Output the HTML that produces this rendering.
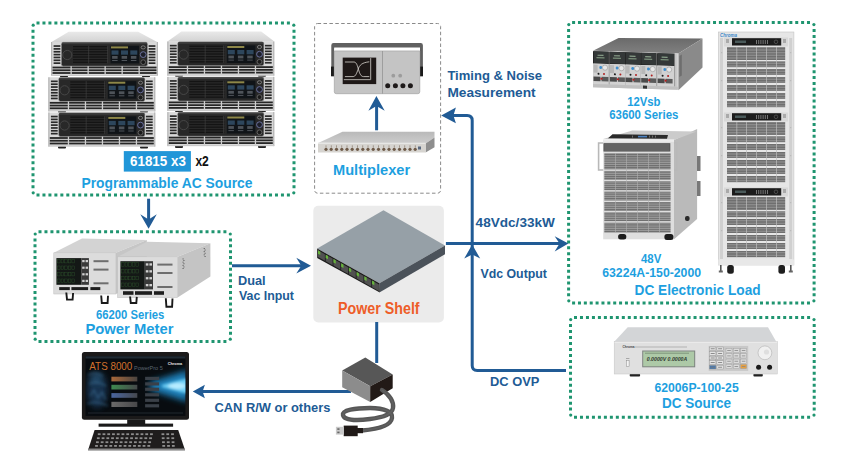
<!DOCTYPE html>
<html><head><meta charset="utf-8">
<style>
html,body{margin:0;padding:0;background:#fff;width:842px;height:459px;overflow:hidden}
svg{display:block}
text{font-family:"Liberation Sans",sans-serif;font-weight:bold}
.db{fill:#215b95}
.lb{fill:#1d9fdf}
</style></head><body>
<svg width="842" height="459" viewBox="0 0 842 459">
<rect width="842" height="459" fill="#fff"/>
<defs>
<linearGradient id="topg" x1="0" y1="0" x2="0" y2="1"><stop offset="0" stop-color="#e9e9e9"/><stop offset="1" stop-color="#d2d2d2"/></linearGradient>
<g id="acu">
<rect x="0" y="0" width="107" height="34" fill="#d9d9d9"/>
<rect x="0" y="0" width="1.2" height="34" fill="#b5b5b5"/>
<rect x="105.8" y="0" width="1.2" height="34" fill="#b5b5b5"/>
<rect x="2.6" y="3.20" width="6.8" height="1.7" fill="#2a2a2a"/>
<rect x="97.6" y="3.20" width="6.8" height="1.7" fill="#2a2a2a"/>
<rect x="2.6" y="6.05" width="6.8" height="1.7" fill="#2a2a2a"/>
<rect x="97.6" y="6.05" width="6.8" height="1.7" fill="#2a2a2a"/>
<rect x="2.6" y="8.90" width="6.8" height="1.7" fill="#2a2a2a"/>
<rect x="97.6" y="8.90" width="6.8" height="1.7" fill="#2a2a2a"/>
<rect x="2.6" y="11.75" width="6.8" height="1.7" fill="#2a2a2a"/>
<rect x="97.6" y="11.75" width="6.8" height="1.7" fill="#2a2a2a"/>
<rect x="2.6" y="14.60" width="6.8" height="1.7" fill="#2a2a2a"/>
<rect x="97.6" y="14.60" width="6.8" height="1.7" fill="#2a2a2a"/>
<rect x="2.6" y="17.45" width="6.8" height="1.7" fill="#2a2a2a"/>
<rect x="97.6" y="17.45" width="6.8" height="1.7" fill="#2a2a2a"/>
<rect x="2.6" y="20.30" width="6.8" height="1.7" fill="#2a2a2a"/>
<rect x="97.6" y="20.30" width="6.8" height="1.7" fill="#2a2a2a"/>
<rect x="10.3" y="0.2" width="86.3" height="24" rx="2" fill="#282828" stroke="#a8a8a8" stroke-width="0.6"/>
<rect x="11" y="0.6" width="85" height="1.6" fill="#3e3e3e"/>
<rect x="22" y="4.00" width="35" height="1.3" fill="#141414"/>
<rect x="22" y="6.60" width="35" height="1.3" fill="#141414"/>
<rect x="22" y="9.20" width="35" height="1.3" fill="#141414"/>
<rect x="22" y="11.80" width="35" height="1.3" fill="#141414"/>
<rect x="22" y="14.40" width="35" height="1.3" fill="#141414"/>
<rect x="22" y="17.00" width="35" height="1.3" fill="#141414"/>
<rect x="22" y="19.60" width="35" height="1.3" fill="#141414"/>
<rect x="37.5" y="3.8" width="0.6" height="17.5" fill="#444"/><rect x="56" y="3.8" width="0.6" height="17.5" fill="#444"/>
<circle cx="16.3" cy="13" r="4.6" fill="none" stroke="#4a4a4a" stroke-width="0.9"/>
<rect x="59.5" y="3.8" width="28.5" height="17.6" fill="#101418"/>
<rect x="60" y="4.4" width="17" height="2" fill="#8e8748"/>
<rect x="60.5" y="8.4" width="7" height="4.3" fill="#2d465c"/>
<rect x="61.1" y="14" width="5.5" height="2.8" fill="#4e5359"/>
<rect x="61.1" y="18" width="5.5" height="1" fill="#4f545a"/>
<rect x="70" y="8.4" width="7" height="4.3" fill="#2d465c"/>
<rect x="70.6" y="14" width="5.5" height="2.8" fill="#4e5359"/>
<rect x="70.6" y="18" width="5.5" height="1" fill="#4f545a"/>
<rect x="79.3" y="8.4" width="7" height="4.3" fill="#2d465c"/>
<rect x="79.89999999999999" y="14" width="5.5" height="2.8" fill="#4e5359"/>
<rect x="79.89999999999999" y="18" width="5.5" height="1" fill="#4f545a"/>
<ellipse cx="92.2" cy="5.4" rx="2.1" ry="1.6" fill="none" stroke="#9a9a9a" stroke-width="0.7"/>
<circle cx="92.2" cy="12.6" r="2.9" fill="#1d1f2a" stroke="#7278a8" stroke-width="0.9"/>
<circle cx="92.2" cy="20.2" r="2.4" fill="#1a1a1a" stroke="#888" stroke-width="0.6"/>
<rect x="1.5" y="24.60" width="104" height="1.8" fill="#262626"/>
<rect x="1.5" y="27.35" width="104" height="1.8" fill="#262626"/>
<rect x="1.5" y="30.10" width="104" height="1.8" fill="#262626"/>
<rect x="19.5" y="24.2" width="1.3" height="8.6" fill="#d0d0d0"/>
<rect x="36.5" y="24.2" width="1.3" height="8.6" fill="#d0d0d0"/>
<rect x="53.5" y="24.2" width="1.3" height="8.6" fill="#d0d0d0"/>
<rect x="70.5" y="24.2" width="1.3" height="8.6" fill="#d0d0d0"/>
<rect x="87.5" y="24.2" width="1.3" height="8.6" fill="#d0d0d0"/>
<rect x="0" y="33" width="107" height="1" fill="#c8c8c8"/>
</g>
</defs>
<!-- AC source units -->
<g>
<polygon points="51,42.2 68.7,31.8 138.1,31.8 157.7,42.2" fill="url(#topg)"/>
<polygon points="167.1,41.8 181.4,31.4 261.2,31.4 274.7,41.8" fill="url(#topg)"/>
<g fill="#222">
<rect x="60" y="75" width="8" height="2.2" rx="1"/><rect x="142" y="75" width="8" height="2.2" rx="1"/>
<rect x="58" y="110.8" width="8" height="2" rx="1"/><rect x="140" y="110.8" width="8" height="2" rx="1"/>
<rect x="58" y="146" width="8" height="2.6" rx="1"/><rect x="140" y="146" width="8" height="2.6" rx="1"/>
<rect x="175" y="74.5" width="8" height="2.2" rx="1"/><rect x="258" y="74.5" width="8" height="2.2" rx="1"/>
<rect x="175" y="110" width="8" height="2" rx="1"/><rect x="258" y="110" width="8" height="2" rx="1"/>
<rect x="175" y="145.4" width="8" height="2.6" rx="1"/><rect x="258" y="145.4" width="8" height="2.6" rx="1"/>
</g>
<use href="#acu" x="51" y="42"/>
<use href="#acu" x="48.3" y="77.3"/>
<use href="#acu" x="48.3" y="112.5"/>
<use href="#acu" x="167.3" y="41.6"/>
<use href="#acu" x="167.3" y="76.9"/>
<use href="#acu" x="167.3" y="112.1"/>
</g>

<!-- boxes -->
<g fill="none" stroke="#1f9570" stroke-width="3">
<path d="M36.50 23H289.90" stroke-dasharray="3 2.962"/>
<path d="M36.50 195H289.90" stroke-dasharray="3 2.962"/>
<path d="M33 29.70V188.30" stroke-dasharray="3 2.985"/>
<path d="M294 29.70V188.30" stroke-dasharray="3 2.985"/>
<path d="M572.10 22.4H810.00" stroke-dasharray="3 2.872"/>
<path d="M572.10 303H810.00" stroke-dasharray="3 2.872"/>
<path d="M568.6 29.10V296.30" stroke-dasharray="3 2.871"/>
<path d="M814.1 29.10V296.30" stroke-dasharray="3 2.871"/>
<path d="M574.00 317.4H810.10" stroke-dasharray="3 2.977"/>
<path d="M574.00 417.3H810.10" stroke-dasharray="3 2.977"/>
<path d="M570.5 324.10V410.60" stroke-dasharray="3 2.964"/>
<path d="M814.2 324.10V410.60" stroke-dasharray="3 2.964"/>
<path d="M38.50 231.8H226.40" stroke-dasharray="3 2.965"/>
<path d="M38.50 341.4H226.40" stroke-dasharray="3 2.965"/>
<path d="M35 238.50V334.70" stroke-dasharray="3 2.825"/>
<path d="M230.5 238.50V334.70" stroke-dasharray="3 2.825"/>
</g>
<g fill="#1f9570">
<circle cx="33.2" cy="25.2" r="1.6"/>
<circle cx="293.8" cy="25.2" r="1.6"/>
<circle cx="33.2" cy="192.8" r="1.6"/>
<circle cx="293.8" cy="192.8" r="1.6"/>
<circle cx="568.8" cy="24.6" r="1.6"/>
<circle cx="813.9" cy="24.6" r="1.6"/>
<circle cx="568.8" cy="300.8" r="1.6"/>
<circle cx="813.9" cy="300.8" r="1.6"/>
<circle cx="570.7" cy="319.6" r="1.6"/>
<circle cx="814.0" cy="319.6" r="1.6"/>
<circle cx="570.7" cy="415.1" r="1.6"/>
<circle cx="814.0" cy="415.1" r="1.6"/>
<circle cx="35.2" cy="234.0" r="1.6"/>
<circle cx="230.3" cy="234.0" r="1.6"/>
<circle cx="35.2" cy="339.2" r="1.6"/>
<circle cx="230.3" cy="339.2" r="1.6"/>
</g>
<rect x="314.6" y="23.5" width="126" height="169.7" rx="3" fill="none" stroke="#8a8a8a" stroke-width="1" stroke-dasharray="3.5 2.4"/>
<rect x="313.3" y="205.7" width="130.6" height="116.7" rx="5" fill="#ebebeb"/>

<!-- oscilloscope -->
<g>
<path d="M331.3 76.2V45.3Q331.3 43.1 333.5 43.1H420.7Q422.9 43.1 422.9 45.3V76.2H420V47.4H334.2V76.2Z" fill="#606060"/>
<rect x="331" y="66.6" width="3" height="9.6" fill="#1a1a1a"/>
<rect x="420" y="66.6" width="3" height="9.6" fill="#1a1a1a"/>
<rect x="334.3" y="48.3" width="85.5" height="2.6" fill="#fff"/>
<path d="M334.3 50.9H419.8V91.7Q419.8 93.7 417.8 93.7H336.3Q334.3 93.7 334.3 91.7Z" fill="#c4c4c4" stroke="#9a9a9a" stroke-width="0.6"/>
<rect x="382.1" y="51" width="0.7" height="42.6" fill="#8f8f8f"/>
<rect x="342.7" y="57.6" width="33.5" height="26.5" fill="#1e1817"/>
<path d="M344.9 62H353.9C356.5 62 357.5 66 358.5 69.5C359.8 74 361 76.6 363.5 76.6H369.3M344.9 76.6H353.2C355.5 76.6 356.8 73 358 69.5C359.5 65 362 62.6 369.3 61.8M370.7 58.1V79.7" fill="none" stroke="#e6e2dc" stroke-width="0.75"/><path d="M343.8 79.6H370.7" stroke="#a09c98" stroke-width="1.1"/>
<circle cx="393.3" cy="75.7" r="1.9" fill="#9c9c9c"/><circle cx="400.2" cy="75.7" r="1.9" fill="#9c9c9c"/>
<circle cx="387.7" cy="85.8" r="2.5" fill="#1e1a1a"/><circle cx="395.4" cy="85.8" r="2.5" fill="#1e1a1a"/><circle cx="402.9" cy="85.8" r="2.5" fill="#1e1a1a"/><circle cx="410.4" cy="85.8" r="2.5" fill="#1e1a1a"/>
</g>
<!-- multiplexer -->
<defs><linearGradient id="muxtop" x1="0" y1="0" x2="0" y2="1"><stop offset="0" stop-color="#b9b9b9"/><stop offset="1" stop-color="#cdcdcd"/></linearGradient></defs>
<g>
<polygon points="318.7,142.8 342.5,131.7 434.5,131.7 434.5,137.6 425.6,143.6" fill="url(#muxtop)"/>
<polygon points="425.6,143.6 434.5,137.6 434.5,147.3 425.6,152.5" fill="#8e8e8e"/>
<rect x="318" y="142.8" width="107.6" height="9.7" fill="#d6d4d0"/>
<rect x="318" y="142.8" width="107.6" height="1" fill="#ecebea"/>
<circle cx="326.0" cy="149.3" r="1.6" fill="#6e5a48"/><rect x="325.5" y="145.3" width="1" height="2.4" fill="#a0968a"/>
<circle cx="331.2" cy="149.3" r="1.6" fill="#6e5a48"/><rect x="330.8" y="145.3" width="1" height="2.4" fill="#a0968a"/>
<circle cx="336.5" cy="149.3" r="1.6" fill="#6e5a48"/><rect x="336.0" y="145.3" width="1" height="2.4" fill="#a0968a"/>
<circle cx="341.8" cy="149.3" r="1.6" fill="#6e5a48"/><rect x="341.2" y="145.3" width="1" height="2.4" fill="#a0968a"/>
<circle cx="347.0" cy="149.3" r="1.6" fill="#6e5a48"/><rect x="346.5" y="145.3" width="1" height="2.4" fill="#a0968a"/>
<circle cx="352.2" cy="149.3" r="1.6" fill="#6e5a48"/><rect x="351.8" y="145.3" width="1" height="2.4" fill="#a0968a"/>
<circle cx="357.5" cy="149.3" r="1.6" fill="#6e5a48"/><rect x="357.0" y="145.3" width="1" height="2.4" fill="#a0968a"/>
<circle cx="362.8" cy="149.3" r="1.6" fill="#6e5a48"/><rect x="362.2" y="145.3" width="1" height="2.4" fill="#a0968a"/>
<circle cx="368.0" cy="149.3" r="1.6" fill="#6e5a48"/><rect x="367.5" y="145.3" width="1" height="2.4" fill="#a0968a"/>
<circle cx="373.2" cy="149.3" r="1.6" fill="#6e5a48"/><rect x="372.8" y="145.3" width="1" height="2.4" fill="#a0968a"/>
<circle cx="378.5" cy="149.3" r="1.6" fill="#6e5a48"/><rect x="378.0" y="145.3" width="1" height="2.4" fill="#a0968a"/>
<circle cx="383.8" cy="149.3" r="1.6" fill="#6e5a48"/><rect x="383.2" y="145.3" width="1" height="2.4" fill="#a0968a"/>
<circle cx="389.0" cy="149.3" r="1.6" fill="#6e5a48"/><rect x="388.5" y="145.3" width="1" height="2.4" fill="#a0968a"/>
<circle cx="394.2" cy="149.3" r="1.6" fill="#6e5a48"/><rect x="393.8" y="145.3" width="1" height="2.4" fill="#a0968a"/>
<circle cx="399.5" cy="149.3" r="1.6" fill="#6e5a48"/><rect x="399.0" y="145.3" width="1" height="2.4" fill="#a0968a"/>
<circle cx="404.8" cy="149.3" r="1.6" fill="#6e5a48"/><rect x="404.2" y="145.3" width="1" height="2.4" fill="#a0968a"/>
<circle cx="410.0" cy="149.3" r="1.6" fill="#6e5a48"/><rect x="409.5" y="145.3" width="1" height="2.4" fill="#a0968a"/>
<circle cx="415.2" cy="149.3" r="1.6" fill="#6e5a48"/><rect x="414.8" y="145.3" width="1" height="2.4" fill="#a0968a"/>
<rect x="418" y="146.5" width="3" height="3" fill="#5a6a80"/>
</g>
<!-- power shelf -->
<g>
<polygon points="317.2,248.5 383.5,210.2 445,245.6 379.4,283.3" fill="#96a0a7"/>
<polygon points="379.4,283.3 445,245.6 445,254.2 379.8,292.2" fill="#4b525a"/>
<polygon points="317.2,248.5 379.4,283.3 379.8,292.4 317.2,258" fill="#1c1c1c"/>
<polygon points="318.00,250.35 324.90,254.21 324.90,260.81 318.00,256.95" fill="#505050"/>
<polygon points="318.00,250.35 320.30,251.63 320.30,255.03 318.00,253.75" fill="#67b43c"/>
<polygon points="325.72,254.67 332.62,258.53 332.62,265.13 325.72,261.27" fill="#505050"/>
<polygon points="325.72,254.67 328.02,255.95 328.02,259.35 325.72,258.07" fill="#67b43c"/>
<polygon points="333.44,258.99 340.34,262.85 340.34,269.45 333.44,265.59" fill="#505050"/>
<polygon points="333.44,258.99 335.74,260.27 335.74,263.67 333.44,262.39" fill="#67b43c"/>
<polygon points="341.16,263.31 348.06,267.17 348.06,273.77 341.16,269.91" fill="#505050"/>
<polygon points="341.16,263.31 343.46,264.59 343.46,267.99 341.16,266.71" fill="#67b43c"/>
<polygon points="348.88,267.62 355.78,271.49 355.78,278.09 348.88,274.22" fill="#505050"/>
<polygon points="348.88,267.62 351.18,268.91 351.18,272.31 348.88,271.02" fill="#67b43c"/>
<polygon points="356.60,271.94 363.50,275.80 363.50,282.40 356.60,278.54" fill="#505050"/>
<polygon points="356.60,271.94 358.90,273.23 358.90,276.63 356.60,275.34" fill="#67b43c"/>
<polygon points="364.32,276.26 371.22,280.12 371.22,286.72 364.32,282.86" fill="#505050"/>
<polygon points="364.32,276.26 366.62,277.55 366.62,280.95 364.32,279.66" fill="#67b43c"/>
<polygon points="372.04,280.58 378.94,284.44 378.94,291.04 372.04,287.18" fill="#505050"/>
<polygon points="372.04,280.58 374.34,281.87 374.34,285.27 372.04,283.98" fill="#67b43c"/>
</g>

<!-- computer -->
<defs>
<linearGradient id="btn1" x1="0" x2="1"><stop offset="0" stop-color="#a8683a"/><stop offset="1" stop-color="#4a4440"/></linearGradient>
<linearGradient id="btn2" x1="0" x2="1"><stop offset="0" stop-color="#3f8a50"/><stop offset="1" stop-color="#45484a"/></linearGradient>
<linearGradient id="btn3" x1="0" x2="1"><stop offset="0" stop-color="#4a66a0"/><stop offset="1" stop-color="#45484e"/></linearGradient>
<linearGradient id="btn4" x1="0" x2="1"><stop offset="0" stop-color="#6a6a6a"/><stop offset="1" stop-color="#48484a"/></linearGradient>
<radialGradient id="glow" cx="0.5" cy="0.5" r="0.5"><stop offset="0" stop-color="#6fd0f6"/><stop offset="0.4" stop-color="#2a8fc6"/><stop offset="1" stop-color="#0a1a2a" stop-opacity="0"/></radialGradient>
<radialGradient id="glow2" cx="0.5" cy="0.5" r="0.5"><stop offset="0" stop-color="#2f5f85"/><stop offset="1" stop-color="#0b1824" stop-opacity="0"/></radialGradient>
</defs>
<g>
<rect x="81.9" y="351.9" width="107.1" height="67.8" rx="2.5" fill="#1b1a1a"/>
<rect x="85.5" y="356.3" width="99.9" height="59.6" fill="#080c10"/>
<clipPath id="scr"><rect x="85.5" y="356.3" width="99.9" height="59.6"/></clipPath>
<g clip-path="url(#scr)">
<filter id="bl3" x="-50%" y="-50%" width="200%" height="200%"><feGaussianBlur stdDeviation="3"/></filter>
<filter id="bl1" x="-50%" y="-50%" width="200%" height="200%"><feGaussianBlur stdDeviation="1.4"/></filter>
<g filter="url(#bl3)" opacity="0.8">
<ellipse cx="97" cy="390" rx="10" ry="18" fill="#1c3e5e"/>
<ellipse cx="96" cy="378" rx="7" ry="5" fill="#2a5a80"/>
</g>
<g filter="url(#bl1)" opacity="0.6"><path d="M88 375Q95 371 103 376M89 384Q97 380 106 386M90 396L94 390L98 398L102 392L106 400M87 404Q96 400 108 406" stroke="#4a80a8" stroke-width="1.2" fill="none"/></g>
<g filter="url(#bl3)">
<polygon points="188,370 150,382 150,390 188,402" fill="#1f7fb8"/>
</g>
<g filter="url(#bl1)">
<polygon points="188,378 162,385 162,387 188,394" fill="#6fd0f6"/>
<ellipse cx="177" cy="386" rx="9" ry="3" fill="#b8ecff"/>
</g>
</g>
<rect x="85.5" y="356.3" width="99.9" height="2.2" fill="#1f2a33"/>
<text x="89.3" y="370.4" font-size="11.2" style="font-weight:normal" fill="#d2712c" textLength="43" lengthAdjust="spacingAndGlyphs">ATS 8000</text>
<text x="134" y="369.8" font-size="5.5" style="font-weight:normal" fill="#5c6670">PowerPro 5</text>
<text x="167.8" y="365" font-size="3.8" fill="#e8e8e8">Chroma</text>
<rect x="111.4" y="376.7" width="25.9" height="4.7" fill="url(#btn1)"/>
<rect x="111.4" y="384.8" width="25.9" height="4.7" fill="url(#btn2)"/>
<rect x="111.4" y="393.1" width="25.9" height="4.7" fill="url(#btn3)"/>
<rect x="111.4" y="401.8" width="25.9" height="5.2" fill="url(#btn4)"/>
<rect x="145.1" y="376.8" width="14" height="3.2" fill="#3a4048"/>
<rect x="145.1" y="382.3" width="14" height="3.2" fill="#3a4048"/>
<rect x="145.1" y="387.7" width="14" height="3.2" fill="#3a4048"/>
<rect x="145.1" y="393.2" width="14" height="3.2" fill="#3a4048"/>
<rect x="145.1" y="398.7" width="14" height="3.2" fill="#3a4048"/>
<rect x="145.1" y="404.2" width="14" height="3.2" fill="#3a4048"/>
<rect x="88" y="412.6" width="95" height="0.8" fill="#2a3038"/>
<rect x="127.2" y="419.5" width="18" height="4.8" fill="#1b1a1a"/>
<rect x="98.6" y="423.6" width="74.5" height="3.1" fill="#1b1a1a"/>
<polygon points="94.6,430 178.2,430 185.1,450.2 88,450.2" fill="#1f1d1d"/>
<polygon points="88.3,448.6 184.8,448.6 185.1,450.2 88,450.2" fill="#8a8a8a"/>
<rect x="97.80" y="433.3" width="2.8" height="1.8" fill="#8e8e8e"/>
<rect x="102.55" y="433.3" width="2.8" height="1.8" fill="#8e8e8e"/>
<rect x="107.30" y="433.3" width="2.8" height="1.8" fill="#8e8e8e"/>
<rect x="112.05" y="433.3" width="2.8" height="1.8" fill="#8e8e8e"/>
<rect x="116.80" y="433.3" width="2.8" height="1.8" fill="#8e8e8e"/>
<rect x="121.55" y="433.3" width="2.8" height="1.8" fill="#8e8e8e"/>
<rect x="126.30" y="433.3" width="2.8" height="1.8" fill="#8e8e8e"/>
<rect x="131.05" y="433.3" width="2.8" height="1.8" fill="#8e8e8e"/>
<rect x="135.80" y="433.3" width="2.8" height="1.8" fill="#8e8e8e"/>
<rect x="140.55" y="433.3" width="2.8" height="1.8" fill="#8e8e8e"/>
<rect x="145.30" y="433.3" width="2.8" height="1.8" fill="#8e8e8e"/>
<rect x="150.05" y="433.3" width="2.8" height="1.8" fill="#8e8e8e"/>
<rect x="161.50" y="433.3" width="2.8" height="1.8" fill="#8e8e8e"/>
<rect x="166.30" y="433.3" width="2.8" height="1.8" fill="#8e8e8e"/>
<rect x="171.10" y="433.3" width="2.8" height="1.8" fill="#8e8e8e"/>
<rect x="96.90" y="437.3" width="2.8" height="1.8" fill="#8e8e8e"/>
<rect x="101.65" y="437.3" width="2.8" height="1.8" fill="#8e8e8e"/>
<rect x="106.40" y="437.3" width="2.8" height="1.8" fill="#8e8e8e"/>
<rect x="111.15" y="437.3" width="2.8" height="1.8" fill="#8e8e8e"/>
<rect x="115.90" y="437.3" width="2.8" height="1.8" fill="#8e8e8e"/>
<rect x="120.65" y="437.3" width="2.8" height="1.8" fill="#8e8e8e"/>
<rect x="125.40" y="437.3" width="2.8" height="1.8" fill="#8e8e8e"/>
<rect x="130.15" y="437.3" width="2.8" height="1.8" fill="#8e8e8e"/>
<rect x="134.90" y="437.3" width="2.8" height="1.8" fill="#8e8e8e"/>
<rect x="139.65" y="437.3" width="2.8" height="1.8" fill="#8e8e8e"/>
<rect x="144.40" y="437.3" width="2.8" height="1.8" fill="#8e8e8e"/>
<rect x="149.15" y="437.3" width="2.8" height="1.8" fill="#8e8e8e"/>
<rect x="161.77" y="437.3" width="2.8" height="1.8" fill="#8e8e8e"/>
<rect x="166.57" y="437.3" width="2.8" height="1.8" fill="#8e8e8e"/>
<rect x="171.37" y="437.3" width="2.8" height="1.8" fill="#8e8e8e"/>
<rect x="96.00" y="441.3" width="2.8" height="1.8" fill="#8e8e8e"/>
<rect x="100.75" y="441.3" width="2.8" height="1.8" fill="#8e8e8e"/>
<rect x="105.50" y="441.3" width="2.8" height="1.8" fill="#8e8e8e"/>
<rect x="110.25" y="441.3" width="2.8" height="1.8" fill="#8e8e8e"/>
<rect x="115.00" y="441.3" width="2.8" height="1.8" fill="#8e8e8e"/>
<rect x="119.75" y="441.3" width="2.8" height="1.8" fill="#8e8e8e"/>
<rect x="124.50" y="441.3" width="2.8" height="1.8" fill="#8e8e8e"/>
<rect x="129.25" y="441.3" width="2.8" height="1.8" fill="#8e8e8e"/>
<rect x="134.00" y="441.3" width="2.8" height="1.8" fill="#8e8e8e"/>
<rect x="138.75" y="441.3" width="2.8" height="1.8" fill="#8e8e8e"/>
<rect x="143.50" y="441.3" width="2.8" height="1.8" fill="#8e8e8e"/>
<rect x="148.25" y="441.3" width="2.8" height="1.8" fill="#8e8e8e"/>
<rect x="162.04" y="441.3" width="2.8" height="1.8" fill="#8e8e8e"/>
<rect x="166.84" y="441.3" width="2.8" height="1.8" fill="#8e8e8e"/>
<rect x="171.64" y="441.3" width="2.8" height="1.8" fill="#8e8e8e"/>
<rect x="95.10" y="445.0" width="2.8" height="1.8" fill="#8e8e8e"/>
<rect x="99.85" y="445.0" width="2.8" height="1.8" fill="#8e8e8e"/>
<rect x="104.60" y="445.0" width="2.8" height="1.8" fill="#8e8e8e"/>
<rect x="109.35" y="445.0" width="2.8" height="1.8" fill="#8e8e8e"/>
<rect x="114.10" y="445.0" width="2.8" height="1.8" fill="#8e8e8e"/>
<rect x="118.85" y="445.0" width="2.8" height="1.8" fill="#8e8e8e"/>
<rect x="123.60" y="445.0" width="2.8" height="1.8" fill="#8e8e8e"/>
<rect x="128.35" y="445.0" width="2.8" height="1.8" fill="#8e8e8e"/>
<rect x="133.10" y="445.0" width="2.8" height="1.8" fill="#8e8e8e"/>
<rect x="137.85" y="445.0" width="2.8" height="1.8" fill="#8e8e8e"/>
<rect x="142.60" y="445.0" width="2.8" height="1.8" fill="#8e8e8e"/>
<rect x="147.35" y="445.0" width="2.8" height="1.8" fill="#8e8e8e"/>
<rect x="162.31" y="445.0" width="2.8" height="1.8" fill="#8e8e8e"/>
<rect x="167.11" y="445.0" width="2.8" height="1.8" fill="#8e8e8e"/>
<rect x="171.91" y="445.0" width="2.8" height="1.8" fill="#8e8e8e"/>
</g>
<!-- power meters -->
<g>
<polygon points="53.8,252.8 82,238.5 146.8,240 115.9,252.8" fill="#d3d3d3"/>
<polygon points="115.9,252.8 146.8,240 146.8,281 115.9,294.0" fill="#c6c6c6"/>
<rect x="53.8" y="252.8" width="62.1" height="41.2" fill="#dcdcdc" stroke="#bdbdbd" stroke-width="0.5"/>
<rect x="56.4" y="258.1" width="25" height="26.7" fill="#141816"/>
<rect x="57.5" y="259.5" width="2.6" height="3.4" fill="none" stroke="#2c4f2a" stroke-width="0.45"/>
<rect x="61.1" y="259.5" width="2.6" height="3.4" fill="none" stroke="#2c4f2a" stroke-width="0.45"/>
<rect x="64.7" y="259.5" width="2.6" height="3.4" fill="none" stroke="#2c4f2a" stroke-width="0.45"/>
<rect x="68.3" y="259.5" width="2.6" height="3.4" fill="none" stroke="#2c4f2a" stroke-width="0.45"/>
<rect x="71.9" y="259.5" width="2.6" height="3.4" fill="none" stroke="#2c4f2a" stroke-width="0.45"/>
<rect x="57.5" y="266.0" width="2.6" height="3.4" fill="none" stroke="#2c4f2a" stroke-width="0.45"/>
<rect x="61.1" y="266.0" width="2.6" height="3.4" fill="none" stroke="#2c4f2a" stroke-width="0.45"/>
<rect x="64.7" y="266.0" width="2.6" height="3.4" fill="none" stroke="#2c4f2a" stroke-width="0.45"/>
<rect x="68.3" y="266.0" width="2.6" height="3.4" fill="none" stroke="#2c4f2a" stroke-width="0.45"/>
<rect x="71.9" y="266.0" width="2.6" height="3.4" fill="none" stroke="#2c4f2a" stroke-width="0.45"/>
<rect x="57.5" y="272.5" width="2.6" height="3.4" fill="none" stroke="#2c4f2a" stroke-width="0.45"/>
<rect x="61.1" y="272.5" width="2.6" height="3.4" fill="none" stroke="#2c4f2a" stroke-width="0.45"/>
<rect x="64.7" y="272.5" width="2.6" height="3.4" fill="none" stroke="#2c4f2a" stroke-width="0.45"/>
<rect x="68.3" y="272.5" width="2.6" height="3.4" fill="none" stroke="#2c4f2a" stroke-width="0.45"/>
<rect x="71.9" y="272.5" width="2.6" height="3.4" fill="none" stroke="#2c4f2a" stroke-width="0.45"/>
<rect x="57.5" y="279.0" width="2.6" height="3.4" fill="none" stroke="#2c4f2a" stroke-width="0.45"/>
<rect x="61.1" y="279.0" width="2.6" height="3.4" fill="none" stroke="#2c4f2a" stroke-width="0.45"/>
<rect x="64.7" y="279.0" width="2.6" height="3.4" fill="none" stroke="#2c4f2a" stroke-width="0.45"/>
<rect x="68.3" y="279.0" width="2.6" height="3.4" fill="none" stroke="#2c4f2a" stroke-width="0.45"/>
<rect x="71.9" y="279.0" width="2.6" height="3.4" fill="none" stroke="#2c4f2a" stroke-width="0.45"/>
<rect x="81.3" y="258.1" width="7.6" height="26.7" fill="#3a3a3a"/>
<rect x="82.2" y="260.0" width="2.4" height="2.2" fill="#d0d0d0"/><rect x="85.6" y="260.0" width="2.4" height="2.2" fill="#d0d0d0"/>
<rect x="82.2" y="266.6" width="2.4" height="2.2" fill="#d0d0d0"/><rect x="85.6" y="266.6" width="2.4" height="2.2" fill="#d0d0d0"/>
<rect x="82.2" y="273.2" width="2.4" height="2.2" fill="#d0d0d0"/><rect x="85.6" y="273.2" width="2.4" height="2.2" fill="#d0d0d0"/>
<rect x="82.2" y="279.8" width="2.4" height="2.2" fill="#d0d0d0"/><rect x="85.6" y="279.8" width="2.4" height="2.2" fill="#d0d0d0"/>
<rect x="93.5" y="260.2" width="15" height="2" fill="#6e6e6e"/>
<rect x="93.5" y="268.6" width="15" height="2" fill="#6e6e6e"/>
<rect x="93.5" y="282.3" width="15" height="2" fill="#6e6e6e"/>
<rect x="59.2" y="287.1" width="10.6" height="3" fill="#1e1e1e"/><rect x="71.4" y="287.1" width="16.7" height="3" fill="#1e1e1e"/><rect x="90.4" y="287.1" width="9.9" height="3" fill="#1e1e1e"/>
<path d="M66.3 292.5L67 299.6H72.6L73.1 293" fill="none" stroke="#1a1a1a" stroke-width="1.9"/><path d="M101.2 295.5L101.8 303H107.6L108 295.8" fill="none" stroke="#1a1a1a" stroke-width="1.9"/>
<polygon points="117.6,256.8 147,241.8 210.4,243.2 177.6,256.8" fill="#cfcfcf"/>
<polygon points="177.6,256.8 210.4,243.2 210.4,276.4 177.6,297.4" fill="#c4c4c4"/>
<rect x="117.6" y="256.8" width="60" height="40.8" fill="#dcdcdc" stroke="#bdbdbd" stroke-width="0.5"/>
<rect x="120.4" y="261.2" width="24.4" height="28.2" fill="#141816"/>
<rect x="121.5" y="262.6" width="2.6" height="3.6" fill="none" stroke="#2c4f2a" stroke-width="0.45"/>
<rect x="125.1" y="262.6" width="2.6" height="3.6" fill="none" stroke="#2c4f2a" stroke-width="0.45"/>
<rect x="128.7" y="262.6" width="2.6" height="3.6" fill="none" stroke="#2c4f2a" stroke-width="0.45"/>
<rect x="132.3" y="262.6" width="2.6" height="3.6" fill="none" stroke="#2c4f2a" stroke-width="0.45"/>
<rect x="135.9" y="262.6" width="2.6" height="3.6" fill="none" stroke="#2c4f2a" stroke-width="0.45"/>
<rect x="121.5" y="269.4" width="2.6" height="3.6" fill="none" stroke="#2c4f2a" stroke-width="0.45"/>
<rect x="125.1" y="269.4" width="2.6" height="3.6" fill="none" stroke="#2c4f2a" stroke-width="0.45"/>
<rect x="128.7" y="269.4" width="2.6" height="3.6" fill="none" stroke="#2c4f2a" stroke-width="0.45"/>
<rect x="132.3" y="269.4" width="2.6" height="3.6" fill="none" stroke="#2c4f2a" stroke-width="0.45"/>
<rect x="135.9" y="269.4" width="2.6" height="3.6" fill="none" stroke="#2c4f2a" stroke-width="0.45"/>
<rect x="121.5" y="276.2" width="2.6" height="3.6" fill="none" stroke="#2c4f2a" stroke-width="0.45"/>
<rect x="125.1" y="276.2" width="2.6" height="3.6" fill="none" stroke="#2c4f2a" stroke-width="0.45"/>
<rect x="128.7" y="276.2" width="2.6" height="3.6" fill="none" stroke="#2c4f2a" stroke-width="0.45"/>
<rect x="132.3" y="276.2" width="2.6" height="3.6" fill="none" stroke="#2c4f2a" stroke-width="0.45"/>
<rect x="135.9" y="276.2" width="2.6" height="3.6" fill="none" stroke="#2c4f2a" stroke-width="0.45"/>
<rect x="121.5" y="283.0" width="2.6" height="3.6" fill="none" stroke="#2c4f2a" stroke-width="0.45"/>
<rect x="125.1" y="283.0" width="2.6" height="3.6" fill="none" stroke="#2c4f2a" stroke-width="0.45"/>
<rect x="128.7" y="283.0" width="2.6" height="3.6" fill="none" stroke="#2c4f2a" stroke-width="0.45"/>
<rect x="132.3" y="283.0" width="2.6" height="3.6" fill="none" stroke="#2c4f2a" stroke-width="0.45"/>
<rect x="135.9" y="283.0" width="2.6" height="3.6" fill="none" stroke="#2c4f2a" stroke-width="0.45"/>
<rect x="144.8" y="261.2" width="8.2" height="28.2" fill="#3a3a3a"/>
<rect x="145.8" y="263.3" width="2.6" height="2.3" fill="#d0d0d0"/><rect x="149.4" y="263.3" width="2.6" height="2.3" fill="#d0d0d0"/>
<rect x="145.8" y="270.2" width="2.6" height="2.3" fill="#d0d0d0"/><rect x="149.4" y="270.2" width="2.6" height="2.3" fill="#d0d0d0"/>
<rect x="145.8" y="277.1" width="2.6" height="2.3" fill="#d0d0d0"/><rect x="149.4" y="277.1" width="2.6" height="2.3" fill="#d0d0d0"/>
<rect x="145.8" y="284.0" width="2.6" height="2.3" fill="#d0d0d0"/><rect x="149.4" y="284.0" width="2.6" height="2.3" fill="#d0d0d0"/>
<rect x="157.3" y="263.6" width="15.2" height="2" fill="#6e6e6e"/>
<rect x="157.3" y="272" width="15.2" height="2" fill="#6e6e6e"/>
<rect x="157.3" y="286" width="15.2" height="2" fill="#6e6e6e"/>
<rect x="123" y="291.2" width="10.5" height="3.6" fill="#1e1e1e"/><rect x="135" y="291.2" width="17" height="3.6" fill="#1e1e1e"/><rect x="154" y="291.2" width="10" height="3.6" fill="#1e1e1e"/>
<path d="M130.1 296.5L130.8 303H136.3L136.8 296.8" fill="none" stroke="#1a1a1a" stroke-width="1.9"/><path d="M165.8 298.3L166.4 306.8H172.1L172.5 298.5" fill="none" stroke="#1a1a1a" stroke-width="1.9"/>
<g fill="#6a6a6a"><rect x="182.4" y="258.5" width="1.4" height="0.9"/><rect x="183.2" y="260.1" width="1.4" height="0.9"/><rect x="182.4" y="261.7" width="1.4" height="0.9"/><rect x="183.2" y="263.3" width="1.4" height="0.9"/><rect x="182.4" y="264.9" width="1.4" height="0.9"/><rect x="183.2" y="266.5" width="1.4" height="0.9"/><rect x="182.4" y="268.1" width="1.4" height="0.9"/><rect x="203.6" y="248.0" width="1.4" height="0.9"/><rect x="204.4" y="249.6" width="1.4" height="0.9"/><rect x="203.6" y="251.2" width="1.4" height="0.9"/><rect x="204.4" y="252.8" width="1.4" height="0.9"/><rect x="203.6" y="254.4" width="1.4" height="0.9"/><rect x="204.4" y="256.0" width="1.4" height="0.9"/></g>
</g>
<!-- 63600 -->
<defs><linearGradient id="m636top" x1="0" y1="0" x2="0" y2="1"><stop offset="0" stop-color="#6a6a6a"/><stop offset="1" stop-color="#808080"/></linearGradient></defs>
<g>
<polygon points="593,50.8 618.6,38 702.5,38.5 678.4,53.4" fill="url(#m636top)"/>
<polygon points="678.4,53.4 702.5,38.5 702.5,67.5 678.4,90.2" fill="#8a8a8a"/>
<polygon points="679.4,56 681.8,54.6 681.8,75.6 679.4,77" fill="#6e6e6e"/>
<g transform="translate(593,50.8) skewY(1.74) translate(-593,-50.8)">
<rect x="593" y="50.8" width="84.8" height="36.4" fill="#cacaca"/>
<rect x="593.0" y="51.2" width="16.2" height="12.4" fill="#1c1c1c"/>
<rect x="593.6" y="51.2" width="15.0" height="11.8" fill="#343838"/>
<rect x="597.5" y="54.5" width="6" height="1.2" fill="#8aa08a"/><rect x="596.5" y="57" width="8" height="1.2" fill="#7a907a"/>
<rect x="593.3" y="63.6" width="15.6" height="20.5" fill="#d2d2d2"/>
<rect x="593.6" y="64.5" width="4" height="8" fill="#b8b8b8"/>
<circle cx="600.8" cy="67.3" r="1.5" fill="#3f8fcf"/><circle cx="605.0" cy="67.3" r="2.6" fill="#e8e8e8" stroke="#888" stroke-width="0.5"/>
<circle cx="598.5" cy="73.7" r="1" fill="#1a1a1a"/><circle cx="604.0" cy="73.7" r="1" fill="#b02020"/>
<rect x="593.5" y="76.5" width="7" height="4.5" fill="#4a4a4a"/><rect x="601.5" y="76.5" width="7" height="4.5" fill="#5a5a5a"/>
<circle cx="601.5" cy="78.5" r="1.1" fill="#b82020"/>
<rect x="608.8" y="51" width="0.8" height="33" fill="#8a8a8a"/>
<rect x="609.4" y="51.2" width="16.2" height="12.4" fill="#1c1c1c"/>
<rect x="610.0" y="51.2" width="15.0" height="11.8" fill="#343838"/>
<rect x="613.9" y="54.5" width="6" height="1.2" fill="#8aa08a"/><rect x="612.9" y="57" width="8" height="1.2" fill="#7a907a"/>
<rect x="609.7" y="63.6" width="15.6" height="20.5" fill="#d2d2d2"/>
<rect x="610.0" y="64.5" width="4" height="8" fill="#b8b8b8"/>
<circle cx="617.2" cy="67.3" r="1.5" fill="#3f8fcf"/><circle cx="621.4" cy="67.3" r="2.6" fill="#e8e8e8" stroke="#888" stroke-width="0.5"/>
<circle cx="614.9" cy="73.7" r="1" fill="#1a1a1a"/><circle cx="620.4" cy="73.7" r="1" fill="#b02020"/>
<rect x="609.9" y="76.5" width="7" height="4.5" fill="#4a4a4a"/><rect x="617.9" y="76.5" width="7" height="4.5" fill="#5a5a5a"/>
<circle cx="617.9" cy="78.5" r="1.1" fill="#b82020"/>
<rect x="625.2" y="51" width="0.8" height="33" fill="#8a8a8a"/>
<rect x="625.0" y="51.2" width="16.2" height="12.4" fill="#1c1c1c"/>
<rect x="625.6" y="51.2" width="15.0" height="11.8" fill="#343838"/>
<rect x="629.5" y="54.5" width="6" height="1.2" fill="#8aa08a"/><rect x="628.5" y="57" width="8" height="1.2" fill="#7a907a"/>
<rect x="625.3" y="63.6" width="15.6" height="20.5" fill="#d2d2d2"/>
<rect x="625.6" y="64.5" width="4" height="8" fill="#b8b8b8"/>
<circle cx="632.8" cy="67.3" r="1.5" fill="#3f8fcf"/><circle cx="637.0" cy="67.3" r="2.6" fill="#e8e8e8" stroke="#888" stroke-width="0.5"/>
<circle cx="630.5" cy="73.7" r="1" fill="#1a1a1a"/><circle cx="636.0" cy="73.7" r="1" fill="#b02020"/>
<rect x="625.5" y="76.5" width="7" height="4.5" fill="#4a4a4a"/><rect x="633.5" y="76.5" width="7" height="4.5" fill="#5a5a5a"/>
<circle cx="633.5" cy="78.5" r="1.1" fill="#b82020"/>
<rect x="640.8" y="51" width="0.8" height="33" fill="#8a8a8a"/>
<rect x="640.7" y="51.2" width="16.2" height="12.4" fill="#1c1c1c"/>
<rect x="641.3" y="51.2" width="15.0" height="11.8" fill="#343838"/>
<rect x="645.2" y="54.5" width="6" height="1.2" fill="#8aa08a"/><rect x="644.2" y="57" width="8" height="1.2" fill="#7a907a"/>
<rect x="641.0" y="63.6" width="15.6" height="20.5" fill="#d2d2d2"/>
<rect x="641.3" y="64.5" width="4" height="8" fill="#b8b8b8"/>
<circle cx="648.5" cy="67.3" r="1.5" fill="#3f8fcf"/><circle cx="652.7" cy="67.3" r="2.6" fill="#e8e8e8" stroke="#888" stroke-width="0.5"/>
<circle cx="646.2" cy="73.7" r="1" fill="#1a1a1a"/><circle cx="651.7" cy="73.7" r="1" fill="#b02020"/>
<rect x="641.2" y="76.5" width="7" height="4.5" fill="#4a4a4a"/><rect x="649.2" y="76.5" width="7" height="4.5" fill="#5a5a5a"/>
<circle cx="649.2" cy="78.5" r="1.1" fill="#b82020"/>
<rect x="656.5" y="51" width="0.8" height="33" fill="#8a8a8a"/>
<rect x="657.1" y="51.2" width="17.6" height="12.4" fill="#1c1c1c"/>
<rect x="657.7" y="51.2" width="16.4" height="11.8" fill="#343838"/>
<rect x="661.6" y="54.5" width="6" height="1.2" fill="#8aa08a"/><rect x="660.6" y="57" width="8" height="1.2" fill="#7a907a"/>
<rect x="657.4" y="63.6" width="17.0" height="20.5" fill="#d2d2d2"/>
<rect x="657.7" y="64.5" width="4" height="8" fill="#b8b8b8"/>
<circle cx="664.9" cy="67.3" r="1.5" fill="#3f8fcf"/><circle cx="669.1" cy="67.3" r="2.6" fill="#e8e8e8" stroke="#888" stroke-width="0.5"/>
<circle cx="662.6" cy="73.7" r="1" fill="#1a1a1a"/><circle cx="668.1" cy="73.7" r="1" fill="#b02020"/>
<rect x="657.6" y="76.5" width="7" height="4.5" fill="#4a4a4a"/><rect x="665.6" y="76.5" width="7" height="4.5" fill="#5a5a5a"/>
<circle cx="665.6" cy="78.5" r="1.1" fill="#b82020"/>
<rect x="674.3" y="51" width="0.8" height="33" fill="#8a8a8a"/>
<rect x="593" y="84.1" width="84.8" height="3.1" fill="#c0c0c0"/><rect x="643" y="84" width="4" height="3" fill="#333"/>
</g>
</g>
<!-- 63224A -->
<defs>
<pattern id="grill" width="2.2" height="2.2" patternUnits="userSpaceOnUse"><rect width="2.2" height="2.2" fill="#9c9c9c"/><rect width="2.2" height="1.1" fill="#6c6c6c"/></pattern>
</defs>
<g>
<polygon points="674,140 697.1,129.1 697.1,218.9 674,239.3" fill="#bababa"/>
<rect x="697" y="156" width="3.5" height="15" fill="#777"/><rect x="697" y="181" width="3.5" height="15" fill="#777"/>
<polygon points="603.2,139 632.4,130.6 696.6,131.5 674,140" fill="#cbcbcb"/>
<polygon points="608,138.2 612.5,134.2 668,135 667,138.8" fill="#2a2a2a"/>
<rect x="638" y="135.8" width="9" height="1.6" fill="#4a80c0"/><g fill="#999"><rect x="632" y="135.6" width="0.6" height="2"/><rect x="649" y="135.6" width="0.6" height="2"/><rect x="652" y="135.6" width="0.6" height="2"/><rect x="655" y="135.6" width="0.6" height="2"/></g>
<rect x="603.2" y="140" width="70.8" height="99.3" fill="#dedede"/>
<rect x="603.2" y="139.3" width="70.8" height="2.6" fill="#ececec"/>
<rect x="603.5" y="143.2" width="66.8" height="8.3" fill="#4e4e4e"/>
<rect x="604.2" y="143.8" width="65.4" height="7.3" fill="#636363"/>
<rect x="604.3" y="153.1" width="66.3" height="16.3" fill="url(#grill)"/>
<rect x="604.3" y="170.9" width="66.3" height="8.9" fill="url(#grill)"/>
<rect x="604.3" y="181.2" width="66.3" height="9.0" fill="url(#grill)"/>
<rect x="604.3" y="191.6" width="66.3" height="8.9" fill="url(#grill)"/>
<rect x="604.3" y="202" width="66.3" height="9.0" fill="url(#grill)"/>
<rect x="604.3" y="212.3" width="66.3" height="8.9" fill="url(#grill)"/>
<rect x="604.3" y="222.7" width="66.3" height="9.9" fill="url(#grill)"/>
<g fill="#b0b0b0"><rect x="615.3" y="153" width="0.6" height="79.6"/><rect x="626.3" y="153" width="0.6" height="79.6"/><rect x="637.3" y="153" width="0.6" height="79.6"/><rect x="648.3" y="153" width="0.6" height="79.6"/><rect x="659.3" y="153" width="0.6" height="79.6"/></g>
<path d="M603.2 143H598.6V170H603.2" fill="none" stroke="#b8b8b8" stroke-width="1.6"/>
<path d="M674 143H676.6V170H674" fill="none" stroke="#b8b8b8" stroke-width="1.6"/>
<rect x="618.1" y="234" width="8.2" height="5.6" rx="2.5" fill="#1c1c1c"/>
<rect x="664.4" y="234" width="9" height="6" rx="2.5" fill="#1c1c1c"/>
<rect x="685" y="216" width="4.6" height="5" rx="2" fill="#2a2a2a"/>
</g>
<!-- rack -->
<defs>
<pattern id="grill2" width="2" height="1.6" patternUnits="userSpaceOnUse"><rect width="2" height="1.6" fill="#909090"/><rect width="2" height="0.8" fill="#6a6a6a"/></pattern>
</defs>
<g>
<rect x="718.3" y="32" width="75.6" height="233" fill="#e6e6e6" stroke="#c4c4c4" stroke-width="0.6"/>
<rect x="720" y="38" width="3" height="221" fill="#d0d0d0"/><rect x="789.2" y="38" width="3" height="221" fill="#d0d0d0"/>
<text x="720" y="37.4" font-size="4.5" fill="#3a86c8" font-style="italic">Chroma</text>
<rect x="724" y="37.5" width="64" height="9" fill="#d8d8d8"/>
<rect x="732" y="38.2" width="49.2" height="7.3" fill="#1c1c1c"/>
<rect x="735" y="40.5" width="11" height="2.5" fill="#4a5a5a"/>
<g fill="#777"><rect x="756.0" y="40" width="1" height="4"/><rect x="758.2" y="40" width="1" height="4"/><rect x="760.4" y="40" width="1" height="4"/><rect x="762.6" y="40" width="1" height="4"/><rect x="764.8" y="40" width="1" height="4"/><rect x="767.0" y="40" width="1" height="4"/></g>
<circle cx="776" cy="41.8" r="1.8" fill="none" stroke="#666" stroke-width="0.6"/>
<rect x="726" y="39" width="3" height="4" fill="#aaa"/><rect x="783" y="39" width="3" height="4" fill="#aaa"/>
<rect x="727" y="47" width="58.2" height="13.0" fill="url(#grill2)"/>
<rect x="727" y="61.3" width="58.2" height="5.9" fill="url(#grill2)"/>
<rect x="727" y="69" width="58.2" height="6.0" fill="url(#grill2)"/>
<rect x="727" y="77" width="58.2" height="6.0" fill="url(#grill2)"/>
<rect x="727" y="85" width="58.2" height="6.0" fill="url(#grill2)"/>
<rect x="727" y="93" width="58.2" height="6.0" fill="url(#grill2)"/>
<rect x="727" y="101" width="58.2" height="6.2" fill="url(#grill2)"/>
<g fill="#bdbdbd"><rect x="736.5" y="47" width="0.7" height="60.2"/><rect x="746" y="47" width="0.7" height="60.2"/><rect x="756" y="47" width="0.7" height="60.2"/><rect x="766" y="47" width="0.7" height="60.2"/><rect x="776" y="47" width="0.7" height="60.2"/></g>
<g fill="#bbb"><rect x="721" y="52" width="1.2" height="1.2"/><rect x="790" y="52" width="1.2" height="1.2"/><rect x="721" y="80" width="1.2" height="1.2"/><rect x="790" y="80" width="1.2" height="1.2"/></g>
<rect x="724" y="112.5" width="64" height="9" fill="#d8d8d8"/>
<rect x="732" y="113.2" width="49.2" height="7.3" fill="#1c1c1c"/>
<rect x="735" y="115.5" width="11" height="2.5" fill="#4a5a5a"/>
<g fill="#777"><rect x="756.0" y="115" width="1" height="4"/><rect x="758.2" y="115" width="1" height="4"/><rect x="760.4" y="115" width="1" height="4"/><rect x="762.6" y="115" width="1" height="4"/><rect x="764.8" y="115" width="1" height="4"/><rect x="767.0" y="115" width="1" height="4"/></g>
<circle cx="776" cy="116.8" r="1.8" fill="none" stroke="#666" stroke-width="0.6"/>
<rect x="726" y="114" width="3" height="4" fill="#aaa"/><rect x="783" y="114" width="3" height="4" fill="#aaa"/>
<rect x="727" y="122" width="58.2" height="13.0" fill="url(#grill2)"/>
<rect x="727" y="136.3" width="58.2" height="5.9" fill="url(#grill2)"/>
<rect x="727" y="144" width="58.2" height="6.0" fill="url(#grill2)"/>
<rect x="727" y="152" width="58.2" height="6.0" fill="url(#grill2)"/>
<rect x="727" y="160" width="58.2" height="6.0" fill="url(#grill2)"/>
<rect x="727" y="168" width="58.2" height="6.0" fill="url(#grill2)"/>
<rect x="727" y="176" width="58.2" height="6.2" fill="url(#grill2)"/>
<g fill="#bdbdbd"><rect x="736.5" y="122" width="0.7" height="60.2"/><rect x="746" y="122" width="0.7" height="60.2"/><rect x="756" y="122" width="0.7" height="60.2"/><rect x="766" y="122" width="0.7" height="60.2"/><rect x="776" y="122" width="0.7" height="60.2"/></g>
<g fill="#bbb"><rect x="721" y="127" width="1.2" height="1.2"/><rect x="790" y="127" width="1.2" height="1.2"/><rect x="721" y="155" width="1.2" height="1.2"/><rect x="790" y="155" width="1.2" height="1.2"/></g>
<rect x="724" y="187.5" width="64" height="9" fill="#d8d8d8"/>
<rect x="732" y="188.2" width="49.2" height="7.3" fill="#1c1c1c"/>
<rect x="735" y="190.5" width="11" height="2.5" fill="#4a5a5a"/>
<g fill="#777"><rect x="756.0" y="190" width="1" height="4"/><rect x="758.2" y="190" width="1" height="4"/><rect x="760.4" y="190" width="1" height="4"/><rect x="762.6" y="190" width="1" height="4"/><rect x="764.8" y="190" width="1" height="4"/><rect x="767.0" y="190" width="1" height="4"/></g>
<circle cx="776" cy="191.8" r="1.8" fill="none" stroke="#666" stroke-width="0.6"/>
<rect x="726" y="189" width="3" height="4" fill="#aaa"/><rect x="783" y="189" width="3" height="4" fill="#aaa"/>
<rect x="727" y="197" width="58.2" height="13.0" fill="url(#grill2)"/>
<rect x="727" y="211.3" width="58.2" height="5.9" fill="url(#grill2)"/>
<rect x="727" y="219" width="58.2" height="6.0" fill="url(#grill2)"/>
<rect x="727" y="227" width="58.2" height="6.0" fill="url(#grill2)"/>
<rect x="727" y="235" width="58.2" height="6.0" fill="url(#grill2)"/>
<rect x="727" y="243" width="58.2" height="6.0" fill="url(#grill2)"/>
<rect x="727" y="251" width="58.2" height="6.2" fill="url(#grill2)"/>
<g fill="#bdbdbd"><rect x="736.5" y="197" width="0.7" height="60.2"/><rect x="746" y="197" width="0.7" height="60.2"/><rect x="756" y="197" width="0.7" height="60.2"/><rect x="766" y="197" width="0.7" height="60.2"/><rect x="776" y="197" width="0.7" height="60.2"/></g>
<g fill="#bbb"><rect x="721" y="202" width="1.2" height="1.2"/><rect x="790" y="202" width="1.2" height="1.2"/><rect x="721" y="230" width="1.2" height="1.2"/><rect x="790" y="230" width="1.2" height="1.2"/></g>
<rect x="718.3" y="259.5" width="75.6" height="5.5" fill="#e8e8e8"/>
<rect x="727.2" y="265" width="6.6" height="8.7" rx="2.5" fill="#1e1e1e"/>
<rect x="778.4" y="265" width="6.6" height="8.7" rx="2.5" fill="#1e1e1e"/>
<rect x="720" y="265" width="1.6" height="6" fill="#555"/><rect x="718.8" y="270.5" width="4" height="2" fill="#666"/>
<rect x="790" y="265" width="1.6" height="6" fill="#555"/><rect x="788.8" y="270.5" width="4" height="2" fill="#666"/>
</g>
<!-- DC source -->
<g>
<polygon points="614.2,341.7 627.7,327.2 768,327.2 776.3,341.7" fill="#d3d5d7"/>
<rect x="629.7" y="373.8" width="10.4" height="2.8" rx="1" fill="#222"/>
<rect x="753.4" y="373.8" width="9.4" height="2.8" rx="1" fill="#222"/>
<rect x="614.2" y="341.7" width="163.1" height="32.3" fill="#e0e0e0" stroke="#c4c4c4" stroke-width="0.5"/>
<rect x="614.5" y="341.8" width="162.5" height="0.8" fill="#f0f0f0"/>
<text x="622.5" y="348.2" font-size="3.2" fill="#444">Chroma</text>
<rect x="635" y="346.6" width="52" height="0.8" fill="#a8a8a8"/>
<rect x="642.2" y="350.5" width="53" height="16.8" fill="#7e8380"/>
<rect x="643.2" y="351.5" width="51" height="14.8" fill="#adc9a7"/>
<text x="646.8" y="361" font-size="5.2" fill="#2e382e" font-style="italic">0.0000V 0.0000A</text>
<rect x="645" y="352.8" width="44" height="0.7" fill="#6c806a"/>
<rect x="626.3" y="360.3" width="2.8" height="6.4" fill="#f4f4f4" stroke="#888" stroke-width="0.5"/>
<rect x="626" y="358" width="3.4" height="0.8" fill="#999"/>
<rect x="708.7" y="345.9" width="39.5" height="25" fill="#c8c8c8"/>
<rect x="709.5" y="347.0" width="6.4" height="3.6" fill="#e4e4e4" stroke="#8a8a8a" stroke-width="0.4"/><rect x="710.7" y="348.4" width="4" height="0.8" fill="#777"/>
<rect x="716.9" y="347.0" width="6.4" height="3.6" fill="#e4e4e4" stroke="#8a8a8a" stroke-width="0.4"/><rect x="718.1" y="348.4" width="4" height="0.8" fill="#777"/>
<rect x="709.5" y="351.6" width="6.4" height="3.6" fill="#e4e4e4" stroke="#8a8a8a" stroke-width="0.4"/><rect x="710.7" y="353.0" width="4" height="0.8" fill="#777"/>
<rect x="716.9" y="351.6" width="6.4" height="3.6" fill="#e4e4e4" stroke="#8a8a8a" stroke-width="0.4"/><rect x="718.1" y="353.0" width="4" height="0.8" fill="#777"/>
<rect x="709.5" y="356.2" width="6.4" height="3.6" fill="#e4e4e4" stroke="#8a8a8a" stroke-width="0.4"/><rect x="710.7" y="357.6" width="4" height="0.8" fill="#777"/>
<rect x="716.9" y="356.2" width="6.4" height="3.6" fill="#e4e4e4" stroke="#8a8a8a" stroke-width="0.4"/><rect x="718.1" y="357.6" width="4" height="0.8" fill="#777"/>
<rect x="709.5" y="360.8" width="6.4" height="3.6" fill="#e4e4e4" stroke="#8a8a8a" stroke-width="0.4"/><rect x="710.7" y="362.2" width="4" height="0.8" fill="#777"/>
<rect x="716.9" y="360.8" width="6.4" height="3.6" fill="#e4e4e4" stroke="#8a8a8a" stroke-width="0.4"/><rect x="718.1" y="362.2" width="4" height="0.8" fill="#777"/>
<rect x="709.5" y="365.4" width="6.4" height="3.6" fill="#4a7ab0" stroke="#8a8a8a" stroke-width="0.4"/><rect x="710.7" y="366.8" width="4" height="0.8" fill="#777"/>
<rect x="716.9" y="365.4" width="6.4" height="3.6" fill="#e4e4e4" stroke="#8a8a8a" stroke-width="0.4"/><rect x="718.1" y="366.8" width="4" height="0.8" fill="#777"/>
<rect x="726.0" y="348.5" width="6" height="4.2" fill="#dcdcdc" stroke="#9a9a9a" stroke-width="0.4"/><rect x="727.2" y="350.2" width="3.6" height="0.8" fill="#888"/>
<rect x="733.3" y="348.5" width="6" height="4.2" fill="#dcdcdc" stroke="#9a9a9a" stroke-width="0.4"/><rect x="734.5" y="350.2" width="3.6" height="0.8" fill="#888"/>
<rect x="740.6" y="348.5" width="6" height="4.2" fill="#dcdcdc" stroke="#9a9a9a" stroke-width="0.4"/><rect x="741.8" y="350.2" width="3.6" height="0.8" fill="#888"/>
<rect x="726.0" y="353.8" width="6" height="4.2" fill="#dcdcdc" stroke="#9a9a9a" stroke-width="0.4"/><rect x="727.2" y="355.5" width="3.6" height="0.8" fill="#888"/>
<rect x="733.3" y="353.8" width="6" height="4.2" fill="#dcdcdc" stroke="#9a9a9a" stroke-width="0.4"/><rect x="734.5" y="355.5" width="3.6" height="0.8" fill="#888"/>
<rect x="740.6" y="353.8" width="6" height="4.2" fill="#dcdcdc" stroke="#9a9a9a" stroke-width="0.4"/><rect x="741.8" y="355.5" width="3.6" height="0.8" fill="#888"/>
<rect x="726.0" y="359.1" width="6" height="4.2" fill="#dcdcdc" stroke="#9a9a9a" stroke-width="0.4"/><rect x="727.2" y="360.8" width="3.6" height="0.8" fill="#888"/>
<rect x="733.3" y="359.1" width="6" height="4.2" fill="#dcdcdc" stroke="#9a9a9a" stroke-width="0.4"/><rect x="734.5" y="360.8" width="3.6" height="0.8" fill="#888"/>
<rect x="740.6" y="359.1" width="6" height="4.2" fill="#dcdcdc" stroke="#9a9a9a" stroke-width="0.4"/><rect x="741.8" y="360.8" width="3.6" height="0.8" fill="#888"/>
<rect x="726.0" y="364.4" width="6" height="4.2" fill="#dcdcdc" stroke="#9a9a9a" stroke-width="0.4"/><rect x="727.2" y="366.1" width="3.6" height="0.8" fill="#888"/>
<rect x="733.3" y="364.4" width="6" height="4.2" fill="#dcdcdc" stroke="#9a9a9a" stroke-width="0.4"/><rect x="734.5" y="366.1" width="3.6" height="0.8" fill="#888"/>
<rect x="740.6" y="364.4" width="6" height="4.2" fill="#e8a040" stroke="#9a9a9a" stroke-width="0.4"/><rect x="741.8" y="366.1" width="3.6" height="0.8" fill="#888"/>
<circle cx="764.9" cy="352.8" r="6.9" fill="#f0f0f0" stroke="#b0b0b0" stroke-width="0.6"/>
<circle cx="766.5" cy="352" r="2.6" fill="#dedede"/>
<circle cx="758.6" cy="367.3" r="2.5" fill="#1a1a1a"/><circle cx="769.6" cy="367.3" r="2.5" fill="#1a1a1a"/>
</g>
<!-- lines & arrows -->
<g stroke="#215b95" stroke-width="3" fill="none">
<path d="M148.6 198.7V220"/>
<path d="M232 265.7H302"/>
<path d="M445.9 243.5H560"/>
<path d="M452 115.4H467.2Q472.2 115.4 472.2 120.4V365.4Q472.2 370.4 477.2 370.4H566"/>
<path d="M376.6 130.3V106"/>
<path d="M376.7 322V363"/>
<path d="M202 391.4H351"/>
</g>
<g fill="#215b95">
<path d="M140.3 214.2L148.6 228.8L156.8 214.2L148.6 219.6Z"/>
<path d="M296.3 257.8L311 265.7L296.3 273.5L301.3 265.7Z"/>
<path d="M554.7 236.3L568.4 243.5L554.7 251.4L559.5 243.5Z"/>
<path d="M455.9 107.5L441.2 115.4L455.9 123.2L453.4 115.4Z"/>
<path d="M464.2 258.6L472.2 244.6L480.2 258.6L472.2 254.5Z"/>
<path d="M368.4 110.7L376.4 96.1L384.7 110.7L376.5 106Z"/>
<path d="M204.9 384.8L192.8 391.4L204.9 398.2L202.6 391.4Z"/>
</g>

<!-- usb adapter -->
<g>
<polygon points="342.2,370.6 365.3,357.5 392.7,374.5 370.2,386.3" fill="#575757"/>
<polygon points="342.2,370.6 370.2,386.3 370.2,402 342.2,387.3" fill="#8c8c8c"/>
<polygon points="370.2,386.3 392.7,374.5 392.7,388.2 370.2,402" fill="#221a17"/>
<path d="M382 390C390 395 394 402 393 408C392 414 385 417 370 419C355 421 344 420 343 415C342 410 355 408 370 408C385 408 393 412 392 418C391 425 380 429 362 430.5" fill="none" stroke="#575757" stroke-width="4.4" stroke-linecap="round"/>
<path d="M382 390C390 395 394 402 393 408C392 414 385 417 370 419C355 421 344 420 343 415C342 410 355 408 370 408C385 408 393 412 392 418C391 425 380 429 362 430.5" fill="none" stroke="#626262" stroke-width="1.2" stroke-linecap="round"/>
<rect x="343.7" y="425.6" width="14" height="10.6" fill="#201a18"/>
<rect x="357" y="428" width="6" height="5.2" fill="#201a18"/>
<rect x="335.9" y="426.8" width="8" height="7.8" fill="#c9c9c9"/>
<rect x="337.3" y="428.3" width="2.2" height="1.6" fill="#666"/><rect x="337.3" y="431.6" width="2.2" height="1.6" fill="#666"/>
</g>
<!-- texts -->
<text class="db" x="238.0" y="284.7" font-size="13" textLength="27.6" lengthAdjust="spacingAndGlyphs">Dual</text>
<text class="db" x="239.0" y="300.4" font-size="13" textLength="55.0" lengthAdjust="spacingAndGlyphs">Vac Input</text>
<text class="db" x="475.6" y="226.5" font-size="13" textLength="79.3" lengthAdjust="spacingAndGlyphs">48Vdc/33kW</text>
<text class="db" x="480.4" y="277.8" font-size="13" textLength="66.6" lengthAdjust="spacingAndGlyphs">Vdc Output</text>
<text class="db" x="447.4" y="79.8" font-size="13" textLength="94.7" lengthAdjust="spacingAndGlyphs">Timing &amp; Noise</text>
<text class="db" x="447.4" y="96.6" font-size="13" textLength="88.2" lengthAdjust="spacingAndGlyphs">Measurement</text>
<text class="db" x="490.0" y="385.7" font-size="13" textLength="49.3" lengthAdjust="spacingAndGlyphs">DC OVP</text>
<text class="db" x="214.4" y="411.8" font-size="13" textLength="116.0" lengthAdjust="spacingAndGlyphs">CAN R/W or others</text>
<text fill="#ee5d28" x="338.0" y="314" font-size="16" textLength="81.6" lengthAdjust="spacingAndGlyphs">Power Shelf</text>
<text class="lb" x="81.4" y="187.6" font-size="14" textLength="171.1" lengthAdjust="spacingAndGlyphs">Programmable AC Source</text>
<rect x="123.8" y="151.1" width="67.1" height="20.5" fill="#2196d8"/>
<text fill="#fff" x="130.0" y="165.9" font-size="14" textLength="55.9" lengthAdjust="spacingAndGlyphs">61815 x3</text>
<text fill="#111" x="195.4" y="166" font-size="14" textLength="13.4" lengthAdjust="spacingAndGlyphs">x2</text>
<text class="lb" x="333.0" y="174.5" font-size="14" textLength="77.2" lengthAdjust="spacingAndGlyphs">Multiplexer</text>
<text class="lb" x="627.2" y="105.8" font-size="12" textLength="33.3" lengthAdjust="spacingAndGlyphs">12Vsb</text>
<text class="lb" x="609.2" y="118.5" font-size="12" textLength="69.2" lengthAdjust="spacingAndGlyphs">63600 Series</text>
<text class="lb" x="641.0" y="263.1" font-size="12" textLength="20.3" lengthAdjust="spacingAndGlyphs">48V</text>
<text class="lb" x="602.2" y="276.5" font-size="12" textLength="98.9" lengthAdjust="spacingAndGlyphs">63224A-150-2000</text>
<text class="lb" x="634.6" y="294.7" font-size="14" textLength="126.0" lengthAdjust="spacingAndGlyphs">DC Electronic Load</text>
<text class="lb" x="96.0" y="318.9" font-size="12" textLength="68.4" lengthAdjust="spacingAndGlyphs">66200 Series</text>
<text class="lb" x="85.4" y="334.4" font-size="15" textLength="88.1" lengthAdjust="spacingAndGlyphs">Power Meter</text>
<text class="lb" x="654.4" y="392.2" font-size="12" textLength="84.3" lengthAdjust="spacingAndGlyphs">62006P-100-25</text>
<text class="lb" x="662.0" y="408" font-size="14" textLength="69.1" lengthAdjust="spacingAndGlyphs">DC Source</text>
</svg>
</body></html>
